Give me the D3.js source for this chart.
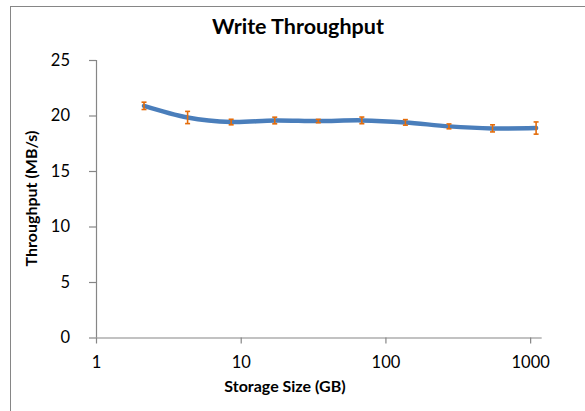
<!DOCTYPE html>
<html>
<head>
<meta charset="utf-8">
<script src="https://cdn.jsdelivr.net/npm/d3@7"></script>
<style>
    body { margin: 0; background: #fff; }
    text { font-family: Lato, "Open Sans", sans-serif; }
</style>
</head>
<body>
<div id="chart"></div>
<script>
// storage sizes (GB) and measured write throughput (MB/s)
const sizes = [2.147, 4.295, 8.59, 17.18, 34.36, 68.72, 137.4, 274.9, 549.8, 1099.5]
const throughput = [20.87, 19.82, 19.41, 19.55, 19.5, 19.56, 19.38, 19.02, 18.84, 18.87]
const errors = [0.33, 0.55, 0.25, 0.3, 0.15, 0.3, 0.25, 0.22, 0.32, 0.55]
const xTicks = [1, 10, 100, 1000]
const yTicks = [0, 5, 10, 15, 20, 25]

let width = 585,
    height = 411;

let svg = d3.select('#chart')
    .append('svg')
    .attr("width", width)
    .attr("height", height)

// chart border
svg.append("rect")
    .attr("x", 10.5).attr("y", 6.5)
    .attr("width", 600).attr("height", 420)
    .attr("fill", "none")
    .attr("stroke", "#868686")

let plotLeft = 96, plotRight = 541.7, plotTop = 60, plotBottom = 337.5

let x = d3.scaleLog().domain([1, 1202]).range([plotLeft, plotRight])
let y = d3.scaleLinear().domain([0, 25]).range([plotBottom, plotTop])

let data = sizes.map(function (s, i) {
    return { size: s, value: throughput[i], err: errors[i] }
})

// axes
let xAxis = svg.append("g")
    .attr("transform", "translate(0," + plotBottom + ")")
    .call(d3.axisBottom(x).tickValues(xTicks).tickFormat(d3.format("d")).tickSize(6).tickPadding(13))
let yAxis = svg.append("g")
    .attr("transform", "translate(" + plotLeft + ",0)")
    .call(d3.axisLeft(y).tickValues(yTicks).tickSize(7).tickPadding(19))

svg.selectAll(".domain").attr("stroke", "#868686").attr("stroke-width", 1.2)
svg.selectAll(".tick line").attr("stroke", "#868686").attr("stroke-width", 1.2)
svg.selectAll(".tick text")
    .attr("fill", "#000")
    .style("font-size", "16.5px")
xAxis.select(".domain").attr("d", "M" + plotLeft + ",0.5H" + plotRight)
yAxis.select(".domain").attr("d", "M0.5," + plotBottom + "V" + plotTop)

// line
let line = d3.line()
    .x(function (d) { return x(d.size) })
    .y(function (d) { return y(d.value) })
    .curve(d3.curveCatmullRom.alpha(0.5))

svg.append("path")
    .datum(data)
    .attr("d", line)
    .attr("fill", "none")
    .attr("stroke", "#4A7EBB")
    .attr("stroke-width", 4.5)
    .attr("stroke-linecap", "round")

// error bars
let bars = svg.selectAll(".err")
    .data(data)
    .enter().append("g")
    .attr("class", "err")
    .attr("stroke", "#E46C0A")
    .attr("stroke-width", 1.6)

bars.append("line")
    .attr("x1", function (d) { return x(d.size) })
    .attr("x2", function (d) { return x(d.size) })
    .attr("y1", function (d) { return y(d.value - d.err) })
    .attr("y2", function (d) { return y(d.value + d.err) })
bars.append("line")
    .attr("x1", function (d) { return x(d.size) - 2.5 })
    .attr("x2", function (d) { return x(d.size) + 2.5 })
    .attr("y1", function (d) { return y(d.value + d.err) })
    .attr("y2", function (d) { return y(d.value + d.err) })
bars.append("line")
    .attr("x1", function (d) { return x(d.size) - 2.5 })
    .attr("x2", function (d) { return x(d.size) + 2.5 })
    .attr("y1", function (d) { return y(d.value - d.err) })
    .attr("y2", function (d) { return y(d.value - d.err) })

// titles
svg.append("text")
    .attr("x", 298).attr("y", 34)
    .attr("text-anchor", "middle")
    .attr("font-weight", "bold")
    .style("font-size", "21.5px")
    .text("Write Throughput")

svg.append("text")
    .attr("x", 285).attr("y", 392)
    .attr("text-anchor", "middle")
    .attr("font-weight", "bold")
    .style("font-size", "16px")
    .text("Storage Size (GB)")

svg.append("text")
    .attr("transform", "translate(37,198.5) rotate(-90)")
    .attr("text-anchor", "middle")
    .attr("font-weight", "bold")
    .style("font-size", "16px")
    .text("Throughput (MB/s)")
</script>
</body>
</html>
